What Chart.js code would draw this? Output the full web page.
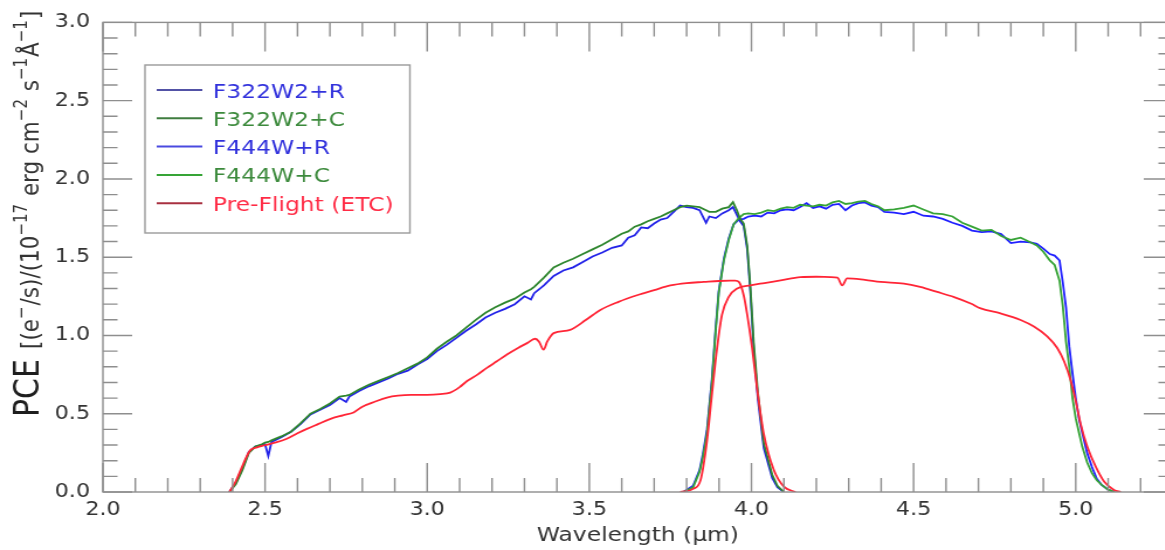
<!DOCTYPE html>
<html><head><meta charset="utf-8">
<script src="https://cdn.jsdelivr.net/npm/chart.js@4.4.1/dist/chart.umd.min.js"></script>
<style>
html,body{margin:0;padding:0;overflow:hidden;background:#fff;width:1165px;height:550px}
#c{display:block}
</style></head>
<body><canvas id="c" width="1003" height="550" style="width:1173px;height:550px"></canvas>
<script>
// ---- data ----
const xTickLabels = [2.0, 2.5, 3.0, 3.5, 4.0, 4.5, 5.0];
const yTickLabels = [0.0, 0.5, 1.0, 1.5, 2.0, 2.5, 3.0];

const seriesNames = ['F322W2+R', 'F322W2+C', 'F444W+R', 'F444W+C', 'Pre-Flight (ETC)'];

const wl322 = [2.39,2.41,2.43,2.45,2.47,2.49,2.50,2.51,2.52,2.55,2.58,2.61,2.64,2.67,2.70,2.73,2.75,2.76,2.79,2.82,2.85,2.88,2.91,2.94,2.97,3.00,3.03,3.06,3.09,3.12,3.15,3.18,3.21,3.24,3.27,3.30,3.32,3.33,3.36,3.39,3.42,3.45,3.48,3.51,3.54,3.57,3.60,3.62,3.64,3.66,3.68,3.70,3.72,3.74,3.76,3.78,3.80,3.82,3.84,3.86,3.87,3.89,3.91,3.93,3.943,3.955,3.965,3.976,3.987,3.997,4.007,4.02,4.038,4.064,4.08,4.10];
const f322R = [0,0.06,0.15,0.255,0.29,0.30,0.305,0.23,0.32,0.35,0.385,0.435,0.495,0.525,0.555,0.60,0.575,0.61,0.645,0.675,0.70,0.725,0.755,0.775,0.815,0.85,0.90,0.94,0.985,1.03,1.07,1.115,1.145,1.17,1.20,1.25,1.23,1.27,1.32,1.38,1.415,1.435,1.47,1.505,1.53,1.56,1.575,1.625,1.64,1.69,1.685,1.715,1.74,1.75,1.79,1.83,1.82,1.815,1.80,1.72,1.76,1.75,1.78,1.80,1.82,1.77,1.73,1.70,1.55,1.27,0.91,0.59,0.28,0.09,0.03,0];
const f322C = [0,0.05,0.14,0.25,0.29,0.305,0.315,0.32,0.33,0.355,0.385,0.44,0.50,0.53,0.565,0.61,0.615,0.62,0.655,0.685,0.71,0.735,0.76,0.79,0.82,0.86,0.915,0.96,1.0,1.05,1.10,1.145,1.18,1.21,1.235,1.275,1.295,1.31,1.37,1.435,1.465,1.49,1.52,1.55,1.58,1.615,1.65,1.665,1.695,1.71,1.73,1.745,1.76,1.78,1.80,1.82,1.83,1.825,1.82,1.80,1.79,1.79,1.81,1.82,1.852,1.80,1.745,1.715,1.57,1.30,0.95,0.63,0.31,0.11,0.04,0];

const wl444 = [3.79,3.82,3.84,3.85,3.863,3.878,3.889,3.899,3.915,3.93,3.945,3.961,3.976,3.99,4.01,4.03,4.05,4.07,4.09,4.11,4.13,4.15,4.17,4.19,4.21,4.23,4.25,4.27,4.29,4.31,4.33,4.35,4.37,4.39,4.41,4.44,4.47,4.50,4.53,4.56,4.59,4.62,4.65,4.68,4.71,4.74,4.77,4.80,4.83,4.86,4.88,4.90,4.92,4.935,4.95,4.96,4.97,4.98,4.99,5.00,5.01,5.02,5.035,5.05,5.065,5.08,5.10,5.12];
const f444R = [0,0.04,0.14,0.24,0.40,0.72,1.03,1.28,1.49,1.62,1.71,1.74,1.745,1.76,1.765,1.76,1.785,1.78,1.80,1.805,1.80,1.82,1.845,1.815,1.825,1.81,1.835,1.84,1.80,1.83,1.845,1.85,1.83,1.82,1.79,1.785,1.775,1.79,1.765,1.76,1.745,1.72,1.70,1.67,1.66,1.665,1.648,1.59,1.60,1.595,1.585,1.555,1.52,1.51,1.48,1.34,1.18,0.93,0.76,0.60,0.47,0.38,0.25,0.16,0.085,0.045,0.015,0];
const f444C = [0,0.03,0.13,0.22,0.38,0.70,1.01,1.27,1.48,1.61,1.71,1.75,1.775,1.78,1.775,1.785,1.80,1.795,1.81,1.82,1.815,1.835,1.83,1.825,1.835,1.83,1.85,1.86,1.84,1.845,1.855,1.86,1.84,1.825,1.80,1.805,1.815,1.83,1.805,1.78,1.775,1.76,1.72,1.695,1.67,1.675,1.635,1.61,1.625,1.595,1.575,1.535,1.48,1.45,1.35,1.19,0.96,0.80,0.60,0.47,0.38,0.29,0.19,0.12,0.075,0.045,0.015,0];

const wlEtc322 = [2.39,2.41,2.433,2.454,2.475,2.495,2.53,2.567,2.60,2.629,2.665,2.70,2.74,2.773,2.80,2.84,2.876,2.91,2.95,3.00,3.04,3.071,3.10,3.123,3.155,3.184,3.215,3.246,3.28,3.308,3.333,3.345,3.359,3.37,3.38,3.39,3.441,3.49,3.534,3.59,3.647,3.70,3.75,3.80,3.853,3.90,3.935,3.95,3.961,3.976,3.987,4.002,4.017,4.038,4.069,4.10,4.136];
const etc322 = [0,0.07,0.18,0.266,0.285,0.297,0.315,0.34,0.375,0.403,0.435,0.466,0.49,0.508,0.545,0.578,0.603,0.615,0.62,0.62,0.625,0.635,0.67,0.709,0.75,0.793,0.835,0.878,0.92,0.951,0.979,0.96,0.909,0.96,0.994,1.015,1.036,1.10,1.163,1.215,1.257,1.29,1.32,1.335,1.342,1.348,1.35,1.35,1.342,1.257,1.131,0.92,0.666,0.371,0.14,0.034,0];

const wlEtc444 = [3.78,3.82,3.843,3.863,3.878,3.894,3.909,3.93,3.956,3.997,4.04,4.09,4.151,4.20,4.244,4.265,4.28,4.295,4.35,4.398,4.47,4.52,4.573,4.625,4.676,4.707,4.768,4.83,4.871,4.912,4.943,4.964,4.985,5.00,5.015,5.036,5.062,5.088,5.118,5.139];
const etc444 = [0,0.02,0.076,0.33,0.624,0.92,1.131,1.247,1.30,1.32,1.335,1.352,1.373,1.375,1.373,1.37,1.32,1.365,1.355,1.342,1.331,1.31,1.278,1.245,1.204,1.173,1.141,1.099,1.057,0.994,0.92,0.835,0.709,0.582,0.435,0.287,0.16,0.065,0.013,0];

// ---- styling ----
const FONT = '"DejaVu Sans", "Liberation Sans", sans-serif';
const lineColors = ['#2222e8', '#2e862e', '#1f1fff', '#36a336', '#ff2536'];
const legendLineColors = ['#5252a6', '#3f7d3f', '#4a4ae0', '#36a436', '#a83040'];
const legendTextColors = ['#3131dc', '#3c8a3c', '#3131dc', '#3c8a3c', '#ff2b45'];

const pts = (xs, ys) => xs.map((x, i) => ({x: x, y: ys[i]}));

function ds(label, xs, ys, color, order, smooth) {
  return {
    label: label, data: pts(xs, ys), borderColor: color, backgroundColor: color,
    borderWidth: 1.8, pointRadius: 0, fill: false, order: order,
    cubicInterpolationMode: smooth ? 'monotone' : 'default', tension: 0
  };
}

const datasets = [
  ds(seriesNames[4], wlEtc322, etc322, lineColors[4], 0, true),
  ds(seriesNames[4] + ' ', wlEtc444, etc444, lineColors[4], 1, true),
  ds(seriesNames[1], wl322, f322C, lineColors[1], 2, false),
  ds(seriesNames[3], wl444, f444C, lineColors[3], 3, false),
  ds(seriesNames[0], wl322, f322R, lineColors[0], 4, false),
  ds(seriesNames[2], wl444, f444R, lineColors[2], 5, false)
];

const frameTicks = {
  id: 'frameTicks',
  afterDatasetsDraw(chart) {
    const {ctx, chartArea: a, scales: {x, y}} = chart;
    ctx.save();
    ctx.strokeStyle = '#8e8e8e';
    ctx.lineWidth = 1.4;
    ctx.strokeRect(a.left, a.top, a.right - a.left, a.bottom - a.top);
    ctx.beginPath();
    for (let i = 20; i <= 53; i++) {
      const v = i / 10;
      const px = x.getPixelForValue(v);
      const len = (i % 5 === 0) ? 29 : 14;
      ctx.moveTo(px, a.bottom); ctx.lineTo(px, a.bottom - len);
      ctx.moveTo(px, a.top); ctx.lineTo(px, a.top + len);
    }
    for (let j = 0; j <= 30; j++) {
      const v = j / 10;
      const py = y.getPixelForValue(v);
      const len = (j % 5 === 0) ? 25 : 12.5;
      ctx.moveTo(a.left, py); ctx.lineTo(a.left + len, py);
      ctx.moveTo(a.right, py); ctx.lineTo(a.right - len, py);
    }
    ctx.stroke();
    ctx.restore();
  },
  afterDraw(chart) {
    const ctx = chart.ctx;
    // legend box
    ctx.save();
    ctx.strokeStyle = '#9a9a9a';
    ctx.lineWidth = 1.4;
    ctx.strokeRect(124, 65, 226.5, 168);
    const rows = [90, 118.3, 146.6, 174.9, 203.2];
    ctx.font = '20px ' + FONT;
    ctx.textBaseline = 'alphabetic';
    for (let i = 0; i < 5; i++) {
      ctx.strokeStyle = legendLineColors[i];
      ctx.lineWidth = 2;
      ctx.beginPath();
      ctx.moveTo(134, rows[i]); ctx.lineTo(173, rows[i]);
      ctx.stroke();
      ctx.fillStyle = legendTextColors[i];
      ctx.fillText(seriesNames[i], 182, rows[i] + 7.5);
    }
    ctx.restore();

    // y axis title (rotated)
    ctx.save();
    ctx.translate(32.5, 417);
    ctx.rotate(-Math.PI / 2);
    ctx.fillStyle = '#1e1e1e';
    ctx.textBaseline = 'alphabetic';
    ctx.font = '30px ' + FONT;
    ctx.fillText('PCE', 0, 0);
    let pos = ctx.measureText('PCE').width + 10;
    const segs = [
      ['[(e', 0], ['\u2212', 1], ['/s)/(10', 0], ['\u221217', 1], [' erg cm', 0],
      ['\u22122', 1], [' s', 0], ['\u22121', 1], ['\u00c5', 0], ['\u22121', 1], [']', 0]
    ];
    ctx.fillStyle = '#333';
    for (const [t, sup] of segs) {
      ctx.font = (sup ? '15px ' : '21.5px ') + FONT;
      ctx.fillText(t, pos, sup ? -10 : 0);
      pos += ctx.measureText(t).width + (sup ? 1 : 0);
    }
    ctx.restore();
  }
};

new Chart(document.getElementById('c'), {
  type: 'line',
  data: {datasets: datasets},
  options: {
    responsive: false,
    animation: false,
    devicePixelRatio: 1,
    layout: {padding: {top: 17, left: 0, right: 0, bottom: 0}},
    plugins: {legend: {display: false}, tooltip: {enabled: false}},
    elements: {point: {radius: 0}},
    scales: {
      x: {
        type: 'linear', min: 2.0, max: 5.3,
        afterFit(s) { s.height = 58; },
        afterBuildTicks(s) { s.ticks = xTickLabels.map(v => ({value: v})); },
        grid: {display: false, drawTicks: false},
        border: {display: false},
        ticks: {
          color: '#333', padding: 7, maxRotation: 0, autoSkip: false,
          font: {family: FONT, size: 19},
          callback: v => Number(v).toFixed(1)
        },
        title: {
          display: true, text: 'Wavelength (\u03bcm)', color: '#333',
          font: {family: FONT, size: 20}, padding: {top: 0, bottom: 2}
        }
      },
      y: {
        type: 'linear', min: 0, max: 3,
        afterFit(s) { s.width = 88; },
        afterBuildTicks(s) { s.ticks = yTickLabels.map(v => ({value: v})); },
        grid: {display: false, drawTicks: false},
        border: {display: false},
        ticks: {
          color: '#333', padding: 11, autoSkip: false,
          font: {family: FONT, size: 19},
          callback: v => Number(v).toFixed(1)
        }
      }
    }
  },
  plugins: [frameTicks]
});
</script>
</body></html>
